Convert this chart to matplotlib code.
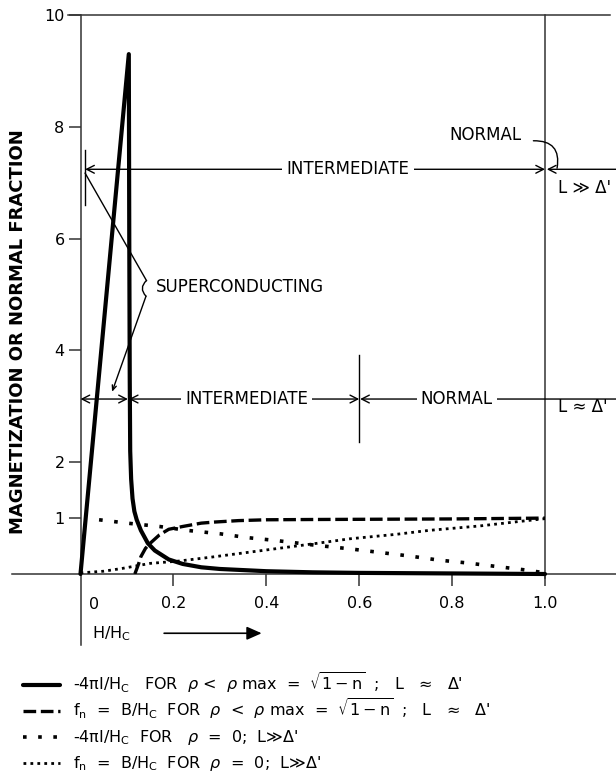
import numpy as np
import matplotlib.pyplot as plt
from matplotlib.lines import Line2D

plt.rcParams['font.family'] = ['DejaVu Sans']
plt.rcParams['mathtext.fontset'] = 'dejavusans'

# -4piI/Hc for rho < rho max, L ~ delta'
h_m1 = [0.0, 0.104, 0.105, 0.106, 0.107, 0.109, 0.112, 0.116, 0.121, 0.13, 0.145,
        0.16, 0.19, 0.22, 0.26, 0.30, 0.40, 0.50, 0.60, 0.80, 1.0]
m1 = [0.0, 9.3, 6.0, 3.5, 2.2, 1.7, 1.35, 1.12, 0.97, 0.78, 0.55,
      0.42, 0.26, 0.18, 0.12, 0.09, 0.05, 0.03, 0.02, 0.01, 0.0]

# fn = B/Hc for rho < rho max, L ~ delta'
h_f1 = [0.117, 0.125, 0.13, 0.14, 0.15, 0.17, 0.19, 0.22, 0.26, 0.29, 0.34,
        0.40, 0.50, 0.65, 0.80, 1.0]
f1 = [0.0, 0.18, 0.31, 0.46, 0.55, 0.70, 0.80, 0.85, 0.91, 0.93, 0.955,
      0.97, 0.975, 0.98, 0.985, 1.0]

# -4piI/Hc for rho = 0, L >> delta'
h_m2 = [0.04, 0.10, 0.17, 0.23, 0.30, 0.36, 0.42, 0.50, 0.58, 0.65, 0.71,
        0.77, 0.83, 0.90, 0.96, 1.0]
m2 = [0.97, 0.91, 0.85, 0.78, 0.72, 0.65, 0.60, 0.52, 0.45, 0.38, 0.32,
      0.25, 0.20, 0.13, 0.07, 0.02]

# fn = B/Hc for rho = 0, L >> delta'
h_f2 = [0.0, 0.05, 0.09, 0.15, 0.21, 0.28, 0.40, 0.51, 0.58, 0.68, 0.75,
        0.86, 0.945, 1.0]
f2 = [0.02, 0.05, 0.10, 0.19, 0.23, 0.30, 0.43, 0.55, 0.63, 0.71, 0.78,
      0.86, 0.94, 0.99]

xticks = [0.2, 0.4, 0.6, 0.8, 1.0]
xticklabels = ['0.2', '0.4', '0.6', '0.8', '1.0']
yticks = [1, 2, 4, 6, 8, 10]

legend_labels = [
    r"-4πI/H$_\mathregular{C}$   FOR  $\rho$ <  $\rho$ max  =  $\sqrt{\mathregular{1-n}}$  ;   L   ≈   Δ'",
    r"f$_\mathregular{n}$  =  B/H$_\mathregular{C}$  FOR  $\rho$  <  $\rho$ max  =  $\sqrt{\mathregular{1-n}}$  ;   L   ≈   Δ'",
    r"-4πI/H$_\mathregular{C}$  FOR   $\rho$  =  0;  L≫Δ'",
    r"f$_\mathregular{n}$  =  B/H$_\mathregular{C}$  FOR  $\rho$  =  0;  L≫Δ'",
]

W, H = 616, 776
fig = plt.figure(figsize=(W / 100, H / 100), dpi=100)
ax = fig.add_axes([80.5 / W, 1 - 574 / H, (545 - 80.5) / W, (574 - 15) / H])
ax.set_xlim(0, 1)
ax.set_ylim(0, 10)
for s in ax.spines.values():
    s.set_visible(False)

fc = '#333333'
# frame lines, running past the axes like on the drawing
ax.plot([-0.147, 1.153], [0, 0], color=fc, lw=1.1, clip_on=False)
ax.plot([-0.027, 1.14], [10, 10], color=fc, lw=1.1, clip_on=False)
ax.plot([0, 0], [10, -1.27], color=fc, lw=1.1, clip_on=False)
ax.plot([1, 1], [10, -0.07], color=fc, lw=1.1, clip_on=False)

ax.set_yticks(yticks)
ax.set_yticklabels([str(t) for t in yticks])
ax.set_xticks(xticks)
ax.set_xticklabels(xticklabels)
ax.tick_params(axis='both', direction='out', length=8.5, width=1.1, color=fc,
               labelsize=11.5)
ax.tick_params(axis='y', pad=3)
ax.tick_params(axis='x', pad=7)
ax.annotate('0', xy=(0, 0), xycoords=('data', 'axes fraction'),
            xytext=(8, -23), textcoords='offset pixels', ha='left', va='top',
            fontsize=11.5)

# curves
style_m1 = dict(color='black', lw=3.0, solid_joinstyle='round', solid_capstyle='round')
style_f1 = dict(color='black', lw=2.4, linestyle=(0, (3.8, 1.4)))
style_m2 = dict(color='black', lw=2.6, linestyle=(0, (1, 3.2)))
style_f2 = dict(color='black', lw=2.0, linestyle=(0, (1, 1.5)))
ax.plot(h_m1, m1, **style_m1, clip_on=False)
ax.plot(h_f1, f1, **style_f1)
ax.plot(h_m2, m2, **style_m2)
ax.plot(h_f2, f2, **style_f2)

txt = dict(fontsize=12, zorder=6)
box = dict(facecolor='white', edgecolor='none', pad=3)
arr = dict(lw=1.0, color='black', shrinkA=0, shrinkB=0)
both = '<->,head_length=0.55,head_width=0.28'
left = '<-,head_length=0.55,head_width=0.28'

# upper band: L >> delta'
yu = 7.24
ax.plot([0.01, 0.01], [6.6, 7.58], color='black', lw=1.0)
ax.annotate('', xy=(1.0, yu), xytext=(0.01, yu),
            arrowprops=dict(arrowstyle=both, **arr))
ax.annotate('', xy=(1.153, yu), xytext=(1.004, yu), annotation_clip=False,
            arrowprops=dict(arrowstyle=left, **arr))
ax.text(0.576, yu, 'INTERMEDIATE', ha='center', va='center', bbox=box, **txt)
ax.text(0.872, 7.85, 'NORMAL', ha='center', va='center', **txt)
ax.annotate('', xy=(1.026, yu + 0.02), xytext=(0.975, 7.75), annotation_clip=False,
            arrowprops=dict(arrowstyle='-', lw=1.0, color='black', shrinkA=0,
                            shrinkB=0, connectionstyle='arc3,rad=-0.6'))
ax.text(1.028, 6.9, "L ≫ Δ'", ha='left', va='center', clip_on=False, **txt)

# superconducting leaders
ax.text(0.162, 5.13, 'SUPERCONDUCTING', ha='left', va='center', **txt)
ax.plot([0.01, 0.142], [7.17, 5.25], color='black', lw=1.0)
ax.annotate('', xy=(0.141, 4.97), xytext=(0.142, 5.25),
            arrowprops=dict(arrowstyle='-', lw=1.0, color='black', shrinkA=0,
                            shrinkB=0, connectionstyle='arc3,rad=0.5'))
ax.annotate('', xy=(0.068, 3.26), xytext=(0.141, 4.97),
            arrowprops=dict(arrowstyle='->,head_length=0.35,head_width=0.15', **arr))

# lower band: L ~ delta'
yl = 3.13
ax.annotate('', xy=(0.102, yl), xytext=(0.0, yl),
            arrowprops=dict(arrowstyle=both, **arr))
ax.annotate('', xy=(0.6, yl), xytext=(0.104, yl),
            arrowprops=dict(arrowstyle=both, **arr))
ax.annotate('', xy=(1.153, yl), xytext=(0.602, yl), annotation_clip=False,
            arrowprops=dict(arrowstyle=left, **arr))
ax.plot([0.6, 0.6], [2.36, 3.92], color='black', lw=1.0)
ax.text(0.358, yl, 'INTERMEDIATE', ha='center', va='center', bbox=box, **txt)
ax.text(0.81, yl, 'NORMAL', ha='center', va='center', bbox=box, **txt)
ax.text(1.028, 2.98, "L ≈ Δ'", ha='left', va='center', clip_on=False, **txt)

# axis titles
fig.text(18 / W, 1 - 332 / H, 'MAGNETIZATION OR NORMAL FRACTION', rotation=90,
         ha='center', va='center', fontsize=13, fontweight='bold')
ax.text(0.025, -1.06, 'H/H$_\\mathregular{C}$', ha='left', va='center',
        clip_on=False, fontsize=11.5)
ax.annotate('', xy=(0.39, -1.06), xytext=(0.18, -1.06), annotation_clip=False,
            arrowprops=dict(arrowstyle='-|>,head_length=0.9,head_width=0.4',
                            lw=1.2, color='black', shrinkA=0, shrinkB=0))

# legend rows
styles = [style_m1, style_f1, style_m2, style_f2]
for i, (st, lab) in enumerate(zip(styles, legend_labels)):
    yp = 1 - (685 + 26 * i) / H
    fig.add_artist(Line2D([23 / W, 60 / W], [yp, yp], **st))
    fig.text(73 / W, yp - 5 / H, lab, ha='left', va='baseline', fontsize=11.5)

fig.savefig('out.png', dpi=100)
